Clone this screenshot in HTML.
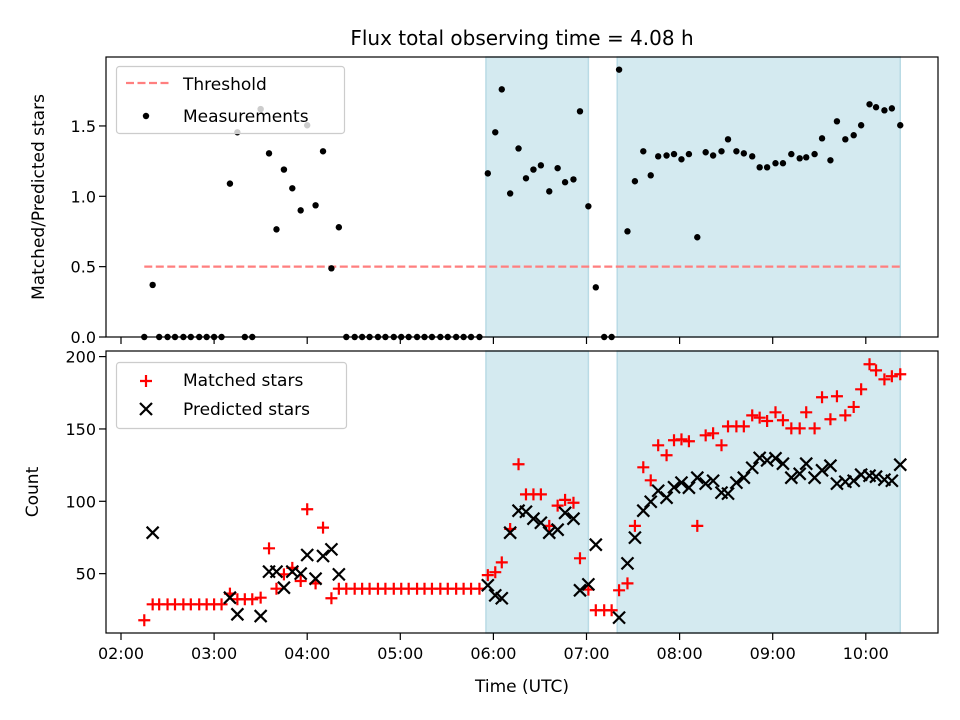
<!DOCTYPE html>
<html><head><meta charset="utf-8"><style>
html,body{margin:0;padding:0;background:#fff;}
svg{display:block;font-family:"DejaVu Sans","Liberation Sans",sans-serif;}
</style></head><body>
<svg id="chart" width="960" height="720" viewBox="0 0 960 720" xmlns="http://www.w3.org/2000/svg">
<rect width="960" height="720" fill="#fff"/>
<text x="522" y="45" font-size="20" text-anchor="middle">Flux total observing time = 4.08 h</text>
<g id="topPanel"></g><g id="botPanel"></g>
<text x="522" y="692" font-size="17" text-anchor="middle">Time (UTC)</text>
<text x="0" y="0" font-size="17" text-anchor="middle" transform="translate(44,197) rotate(-90)">Matched/Predicted stars</text>
<text x="0" y="0" font-size="17" text-anchor="middle" transform="translate(38,492) rotate(-90)">Count</text>
</svg>
<script>
const times=[2.25,2.34,2.41,2.50,2.58,2.67,2.75,2.84,2.92,3.00,3.08,3.17,3.25,3.33,3.41,3.50,3.59,3.67,3.75,3.84,3.93,4.00,4.09,4.17,4.26,4.34,
4.42,4.51,4.59,4.67,4.76,4.84,4.93,5.01,5.09,5.18,5.26,5.34,5.43,5.51,5.60,5.68,5.76,5.85,
5.94,6.02,6.09,6.18,6.27,6.35,6.43,6.51,6.60,6.69,6.77,6.86,6.93,7.02,7.10,7.19,7.27,7.35,7.44,7.52,7.61,7.69,7.77,7.86,7.94,8.02,8.10,8.19,8.28,8.36,8.45,8.52,8.61,8.69,8.78,8.86,8.94,9.03,9.11,9.20,9.29,9.36,9.45,9.53,9.62,9.69,9.78,9.87,9.95,10.04,10.11,10.20,10.28,10.37];
const ratio=[0,0.37,0,0,0,0,0,0,0,0,0,1.09,1.455,0,0,1.62,1.305,0.765,1.19,1.057,0.90,1.505,0.936,1.32,0.488,0.78,
0,0,0,0,0,0,0,0,0,0,0,0,0,0,0,0,0,0,
1.163,1.455,1.76,1.02,1.34,1.128,1.19,1.22,1.035,1.20,1.10,1.12,1.604,0.929,0.353,0,0,1.90,0.751,1.107,1.32,1.149,1.284,1.29,1.30,1.263,1.30,0.709,1.313,1.29,1.32,1.405,1.32,1.305,1.284,1.206,1.206,1.235,1.235,1.30,1.27,1.277,1.30,1.412,1.256,1.533,1.405,1.434,1.505,1.654,1.633,1.611,1.625,1.505];
const matched=[17.8,28.8,28.8,28.8,28.8,28.8,28.8,28.8,28.8,28.8,28.8,36.2,32.3,32.3,32.3,33.4,67.5,39.6,49.5,54,44.9,94.5,43.3,81.8,33,39.6,
39.6,39.6,39.6,39.6,39.6,39.6,39.6,39.6,39.6,39.6,39.6,39.6,39.6,39.6,39.6,39.6,39.6,39.6,
49,51,57.8,80.9,125.6,104.8,104.8,104.8,83,97,101,99,60.6,39,24.7,24.7,24.7,38.5,43.3,83,123.5,114.5,138.7,131.8,142.2,142.8,141.5,83,145.6,147,138.7,151.8,151.8,151.8,159.4,157.8,155.5,161.5,156,150.4,150.4,161.5,150.4,171.9,156.7,172.6,159.4,165.2,177.4,194.7,190.5,184.3,186.4,187.8];
const predicted=[null,78.3,null,null,null,null,null,null,null,null,null,33.4,21.9,null,null,20.7,51.4,51.4,40.3,51.4,50,62.9,46.5,62.2,66.8,49.5,
null,null,null,null,null,null,null,null,null,null,null,null,null,null,null,null,null,null,
42,35,33,78.3,93.5,92.8,88,85.2,78.3,80.4,92,88,38.5,42.6,70,null,null,19.6,57.1,74.9,93.5,99.7,107.3,102.5,109.7,112.9,109.4,116.3,112.2,114.2,106,105.3,112.9,116.3,123.2,130,128.3,129.7,126,116.3,119,126,116.3,121.4,124.6,112.2,113.5,114.2,118.4,117.7,117,115,114.2,125.3];
const spanStart=[5.92,7.33];
const spanEnd=[7.02,10.37];
const threshold=0.5;
const xTickLabels=["02:00","03:00","04:00","05:00","06:00","07:00","08:00","09:00","10:00"];
const topTicks=[0,0.5,1.0,1.5];
const botTicks=[50,100,150,200];

const NS="http://www.w3.org/2000/svg";
const L=106,R=938;
const xs=t=>121+(t-2)*93.1;
const yTop=v=>337-v*140.7;
const yBot=v=>646-v*1.447;
function mk(tag,attrs,parent){const e=document.createElementNS(NS,tag);for(const k in attrs)e.setAttribute(k,attrs[k]);parent.appendChild(e);return e;}
const topG=document.getElementById('topPanel'),botG=document.getElementById('botPanel');

function axes(g,y0,y1,name,ticks,yf,fmt,labels){
  spanStart.forEach((s,i)=>{
    const r=mk('rect',{x:xs(s),y:y0,width:xs(spanEnd[i])-xs(s),height:y1-y0,fill:'#d4eaf0',stroke:'#b9dbe5','stroke-width':1.5},g);
    
    
  });
  xTickLabels.forEach((lab,i)=>{
    const x=xs(2+i);
    const tk=mk('line',{x1:x,x2:x,y1:y1,y2:y1+7,stroke:'#000','stroke-width':1.2},g);
    
    
    if(labels){const t=mk('text',{x:x,y:y1+26,'font-size':16,'text-anchor':'middle'},g);t.textContent=lab;
      
      }
  });
  ticks.forEach(v=>{
    const y=yf(v);
    const tk=mk('line',{x1:L-7,x2:L,y1:y,y2:y,stroke:'#000','stroke-width':1.2},g);
    
    
    const t=mk('text',{x:L-10,y:y+6,'font-size':16,'text-anchor':'end'},g);t.textContent=fmt(v);
    
    
  });
}
axes(topG,57,337,'top',topTicks,yTop,v=>v.toFixed(1),false);
const th=mk('line',{x1:xs(times[0]),x2:xs(times[times.length-1]),y1:yTop(threshold),y2:yTop(threshold),stroke:'#ff7f7f','stroke-width':2.2,'stroke-dasharray':'8,3.5'},topG);


times.forEach((t,i)=>{
  const c=mk('circle',{cx:xs(t),cy:yTop(ratio[i]),r:3.2,fill:'#000'},topG);
  
  
});
const f1=mk('rect',{x:L,y:57,width:R-L,height:280,fill:'none',stroke:'#000','stroke-width':1.2},topG);



axes(botG,351,633,'bottom',botTicks,yBot,v=>String(v),true);
function plus(x,y,g){return mk('path',{d:`M${x-6},${y}H${x+6}M${x},${y-6}V${y+6}`,stroke:'#f00','stroke-width':2.2,fill:'none'},g);}
function cross(x,y,g){return mk('path',{d:`M${x-6},${y-6}L${x+6},${y+6}M${x-6},${y+6}L${x+6},${y-6}`,stroke:'#000','stroke-width':2.2,fill:'none'},g);}
times.forEach((t,i)=>{
  const p=plus(xs(t),yBot(matched[i]),botG);
  
  
});
times.forEach((t,i)=>{
  if(predicted[i]==null)return;
  const p=cross(xs(t),yBot(predicted[i]),botG);
  
  
});
const f2=mk('rect',{x:L,y:351,width:R-L,height:282,fill:'none',stroke:'#000','stroke-width':1.2},botG);



const lg1=mk('g',{},topG);


mk('rect',{x:116.5,y:66.5,width:228,height:67,rx:3,fill:'#fff','fill-opacity':0.8,stroke:'#ccc','stroke-width':1.2},lg1);
mk('line',{x1:126,x2:170,y1:83,y2:83,stroke:'#ff7f7f','stroke-width':2.2,'stroke-dasharray':'8,3.5'},lg1);
let t1=mk('text',{x:183,y:90,'font-size':17},lg1);t1.textContent='Threshold';
mk('circle',{cx:146,cy:116,r:3.2,fill:'#000'},lg1);
let t2=mk('text',{x:183,y:122,'font-size':17},lg1);t2.textContent='Measurements';

const lg2=mk('g',{},botG);


mk('rect',{x:116.5,y:362.5,width:230,height:66,rx:3,fill:'#fff','fill-opacity':0.8,stroke:'#ccc','stroke-width':1.2},lg2);
plus(146,381,lg2);
let t3=mk('text',{x:183,y:386,'font-size':17},lg2);t3.textContent='Matched stars';
cross(146,409,lg2);
let t4=mk('text',{x:183,y:415,'font-size':17},lg2);t4.textContent='Predicted stars';
</script>
</body></html>
